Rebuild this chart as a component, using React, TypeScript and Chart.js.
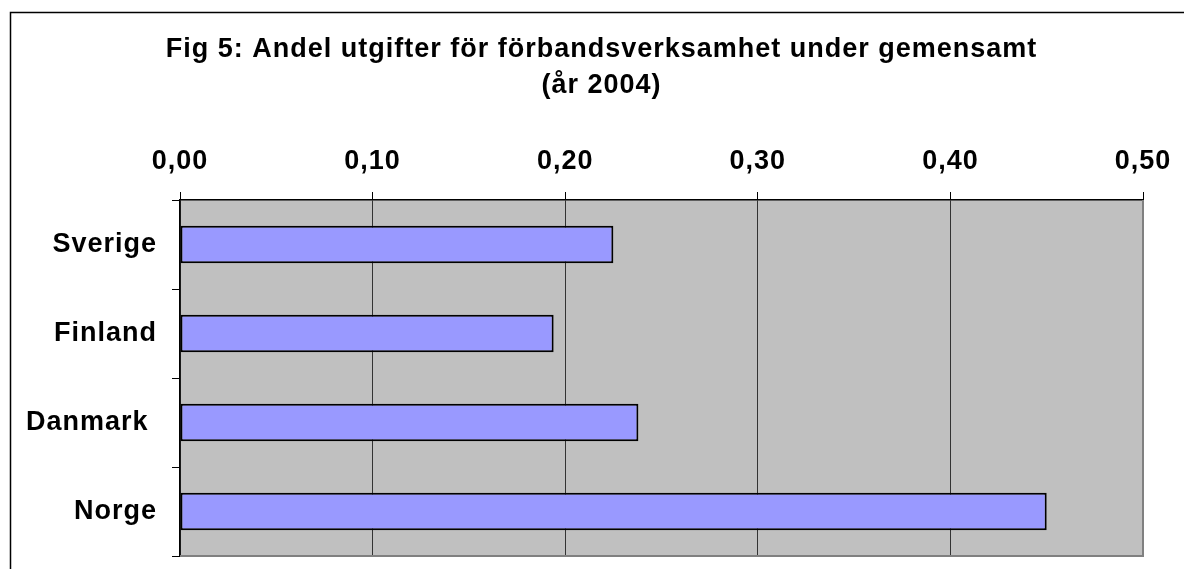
import React, { useEffect, useRef } from "react";
import { Chart, registerables } from "chart.js";

Chart.register(...registerables);

const countries = ["Sverige", "Finland", "Danmark ", "Norge"];
const shareValues = [0.225, 0.194, 0.238, 0.45];
const titleLines = [
  "Fig 5: Andel utgifter för förbandsverksamhet under gemensamt",
  "(år 2004)",
];
const xMin = 0;
const xMax = 0.5;
const xStep = 0.1;

const FONT = "'Liberation Sans', Arial, sans-serif";
const SPACING = "1px";

const setSpacing = (chart: any) => {
  try {
    chart.ctx.letterSpacing = SPACING;
  } catch (e) {}
};

const decorPlugin = {
  id: "decor",
  beforeUpdate: setSpacing,
  beforeLayout: setSpacing,
  beforeDraw(chart: any) {
    setSpacing(chart);
    const { ctx, chartArea } = chart;
    ctx.save();
    ctx.fillStyle = "#c0c0c0";
    ctx.fillRect(chartArea.left, chartArea.top, chartArea.right - chartArea.left, chartArea.bottom - chartArea.top);
    ctx.strokeStyle = "#000";
    ctx.lineWidth = 1.5;
    ctx.strokeRect(10.5, 12.5, 1183, 600);
    ctx.restore();
  },
  afterDraw(chart: any) {
    const { ctx, chartArea } = chart;
    ctx.save();
    ctx.strokeStyle = "#808080";
    ctx.lineWidth = 2;
    ctx.beginPath();
    ctx.moveTo(chartArea.right, chartArea.top);
    ctx.lineTo(chartArea.right, chartArea.bottom);
    ctx.lineTo(chartArea.left, chartArea.bottom);
    ctx.stroke();
    ctx.fillStyle = "#000";
    ctx.letterSpacing = SPACING;
    ctx.font = `bold 27px ${FONT}`;
    ctx.textAlign = "center";
    ctx.textBaseline = "alphabetic";
    ctx.fillText(titleLines[0], 601.5, 57);
    ctx.fillText(titleLines[1], 601.5, 93);
    ctx.restore();
  },
};

export default function App() {
  const ref = useRef<HTMLCanvasElement>(null);
  useEffect(() => {
    if (!ref.current) return;
    const chart = new Chart(ref.current, {
      type: "bar",
      data: {
        labels: countries,
        datasets: [
          {
            data: shareValues,
            backgroundColor: "#9999ff",
            borderColor: "#000",
            borderWidth: 2,
            borderSkipped: false,
            categoryPercentage: 1,
            barPercentage: 0.42,
          },
        ],
      },
      options: {
        indexAxis: "y",
        animation: false,
        responsive: false,
        layout: { padding: { left: 10, right: 41, top: 140, bottom: 13 } },
        plugins: {
          legend: { display: false },
          title: { display: false },
          tooltip: { enabled: false },
        },
        scales: {
          x: {
            position: "top",
            min: xMin,
            max: xMax,
            afterFit: (s: any) => {
              s.height = 60;
              s.paddingLeft = 0;
              s.paddingRight = 0;
            },
            ticks: {
              stepSize: xStep,
              padding: 14,
              color: "#000",
              font: { family: FONT, size: 27, weight: "bold" },
              callback: (v: any) => Number(v).toFixed(2).replace(".", ","),
            },
            grid: {
              color: "#333",
              lineWidth: 1,
              tickLength: 8,
              tickColor: "#000",
            },
            border: { display: true, color: "#000", width: 1.5 },
          },
          y: {
            position: "left",
            offset: true,
            afterFit: (s: any) => {
              s.width = 170;
              s.paddingTop = 0;
              s.paddingBottom = 0;
            },
            ticks: {
              padding: 15,
              color: "#000",
              font: { family: FONT, size: 27, weight: "bold" },
            },
            grid: {
              drawOnChartArea: false,
              offset: true,
              tickLength: 8,
              tickColor: "#000",
              color: "#000",
            },
            border: { display: true, color: "#000", width: 1.5 },
          },
        },
      },
      plugins: [decorPlugin],
    });
    return () => chart.destroy();
  }, []);
  return (
    <div style={{ position: "absolute", left: 0, top: 0, width: 1184, height: 569 }}>
      <canvas ref={ref} width={1184} height={569} style={{ width: 1184, height: 569, display: "block" }} />
    </div>
  );
}
